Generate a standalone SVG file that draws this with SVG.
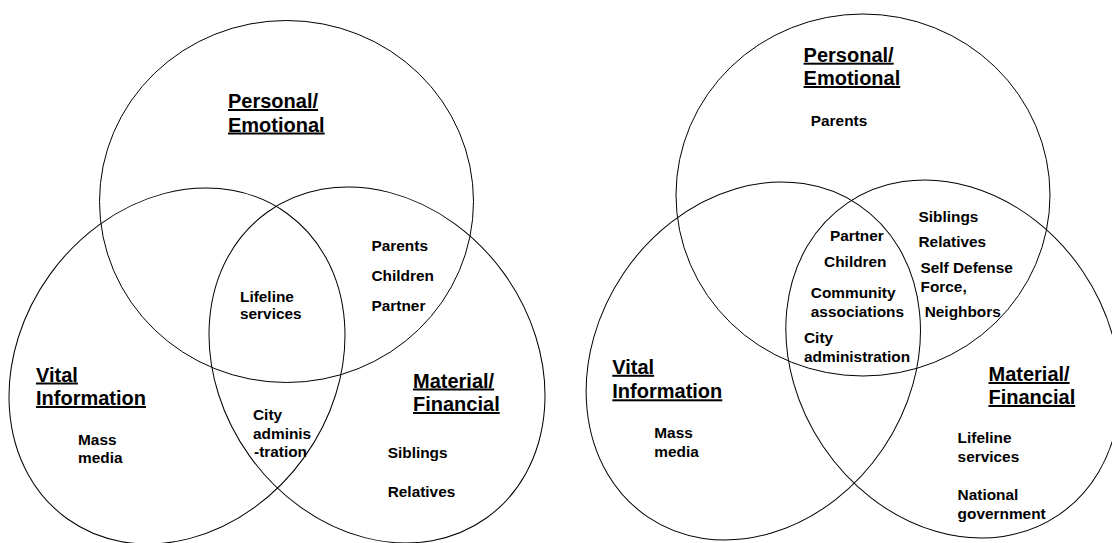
<svg xmlns="http://www.w3.org/2000/svg" width="1112" height="543" viewBox="0 0 1112 543">
<style>
.c{fill:none;stroke:#000;stroke-width:1}
.h{font-family:"Liberation Sans",Arial,sans-serif;font-weight:bold;font-size:20px;fill:#000;text-decoration:underline}
.t{font-family:"Liberation Sans",Arial,sans-serif;font-weight:bold;font-size:15.4px;fill:#000}
</style>
<rect width="1112" height="543" fill="#fff"/>
<g id="left-personal">
<ellipse class="c" cx="286.5" cy="201.5" rx="187" ry="181"/>
<text class="h" x="228" y="108">Personal/</text>
<text class="h" x="228" y="131.5">Emotional</text>
</g>
<g id="left-vital">
<ellipse class="c" cx="177" cy="366" rx="188.1" ry="156.6" transform="rotate(-54.3 177 366)"/>
<text class="h" x="36" y="381.5">Vital</text>
<text class="h" x="36" y="405">Information</text>
</g>
<g id="left-material">
<ellipse class="c" cx="377" cy="365" rx="188.1" ry="156.6" transform="rotate(54.3 377 365)"/>
<text class="h" x="413" y="387.5">Material/</text>
<text class="h" x="413" y="411">Financial</text>
</g>
<g id="left-pe-mf">
<text class="t" x="371.5" y="250.7">Parents</text>
<text class="t" x="371.5" y="280.5">Children</text>
<text class="t" x="371.5" y="311">Partner</text>
</g>
<g id="left-center">
<text class="t" x="240" y="301.7">Lifeline</text>
<text class="t" x="240" y="319.3">services</text>
</g>
<g id="left-vi">
<text class="t" x="78" y="445">Mass</text>
<text class="t" x="78" y="463.3">media</text>
</g>
<g id="left-vi-mf">
<text class="t" x="253" y="420">City</text>
<text class="t" x="253" y="438.5">adminis</text>
<text class="t" x="254" y="457.3">-tration</text>
</g>
<g id="left-mf">
<text class="t" x="387.7" y="458.3">Siblings</text>
<text class="t" x="387.7" y="496.7">Relatives</text>
</g>
<g id="right-personal">
<ellipse class="c" cx="863" cy="195" rx="187" ry="181"/>
<text class="h" x="803.6" y="61.7">Personal/</text>
<text class="h" x="803.6" y="85">Emotional</text>
</g>
<g id="right-vital">
<ellipse class="c" cx="753.3" cy="361" rx="188.3" ry="156.6" transform="rotate(-56 753.3 361)"/>
<text class="h" x="612.3" y="373.8">Vital</text>
<text class="h" x="612.3" y="398.3">Information</text>
</g>
<g id="right-material">
<ellipse class="c" cx="953" cy="359" rx="188.3" ry="156.6" transform="rotate(56 953 359)"/>
<text class="h" x="988.5" y="381">Material/</text>
<text class="h" x="988.5" y="404">Financial</text>
</g>
<g id="right-pe">
<text class="t" x="810.8" y="125.7">Parents</text>
</g>
<g id="right-center">
<text class="t" x="829.9" y="240.7">Partner</text>
<text class="t" x="824.1" y="266.7">Children</text>
<text class="t" x="810.8" y="297.7">Community</text>
<text class="t" x="810.8" y="316.7">associations</text>
<text class="t" x="804" y="343.3">City</text>
<text class="t" x="804" y="362.3">administration</text>
</g>
<g id="right-pe-mf">
<text class="t" x="918.5" y="221.7">Siblings</text>
<text class="t" x="918.5" y="246.5">Relatives</text>
<text class="t" x="920.5" y="273.3">Self Defense</text>
<text class="t" x="920.5" y="292.3">Force,</text>
<text class="t" x="924.7" y="316.7">Neighbors</text>
</g>
<g id="right-vi">
<text class="t" x="654.3" y="438.3">Mass</text>
<text class="t" x="654.3" y="457.3">media</text>
</g>
<g id="right-mf">
<text class="t" x="957.6" y="443.3">Lifeline</text>
<text class="t" x="957.6" y="462.3">services</text>
<text class="t" x="957.6" y="500">National</text>
<text class="t" x="957.6" y="519.3">government</text>
</g>
</svg>
